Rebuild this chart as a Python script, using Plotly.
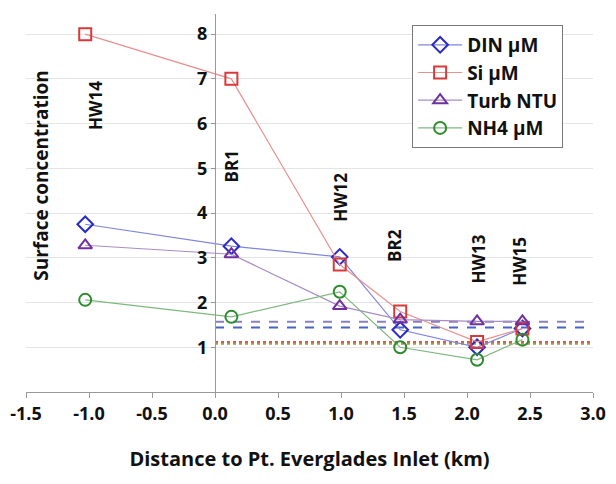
import plotly.graph_objects as go

stations = ["HW14", "BR1", "HW12", "BR2", "HW13", "HW15"]
distance = [-1.03, 0.13, 0.99, 1.47, 2.08, 2.44]
din = [3.75, 3.26, 3.02, 1.39, 1.0, 1.42]
si = [8.0, 7.0, 2.85, 1.8, 1.12, 1.42]
turb = [3.28, 3.08, 1.92, 1.62, 1.58, 1.58]
nh4 = [2.06, 1.68, 2.24, 1.0, 0.72, 1.17]

label_x = [-0.95, 0.13, 1.0, 1.43, 2.09, 2.42]
label_y = [6.4, 5.05, 4.34, 3.27, 2.97, 2.93]

x_ticks = [-1.5, -1.0, -0.5, 0.0, 0.5, 1.0, 1.5, 2.0, 2.5, 3.0]
x_tick_text = ["-1.5", "-1.0", "-0.5", "0.0", "0.5", "1.0", "1.5", "2.0", "2.5", "3.0"]
y_ticks = [1, 2, 3, 4, 5, 6, 7, 8]

ref_x = [0.0, 3.0]
ref_levels = [1.57, 1.44, 1.12, 1.08]
ref_colors = ["#8a7fc0", "#4a63c8", "#e05050", "#a0a040"]
ref_dash = ["dash", "dash", "dot", "dot"]

series = [
    ("DIN µM", din, "diamond-open", "#2a2ac8", "#7f86d8"),
    ("Si µM", si, "square-open", "#d83a3a", "#e89090"),
    ("Turb NTU", turb, "triangle-up-open", "#7030a0", "#a98cc4"),
    ("NH4 µM", nh4, "circle-open", "#2e8b2e", "#7fb87f"),
]

FONT = "Open Sans"

fig = go.Figure()
for lvl, col, d in zip(ref_levels, ref_colors, ref_dash):
    fig.add_trace(go.Scatter(x=ref_x, y=[lvl, lvl], mode="lines",
                             line=dict(color=col, width=2, dash=d),
                             showlegend=False, hoverinfo="skip"))

for name, vals, sym, mc, lc in series:
    fig.add_trace(go.Scatter(x=distance, y=vals, name=name, mode="lines+markers",
                             line=dict(color=lc, width=1.2),
                             marker=dict(symbol=sym, size=12, color=mc,
                                         line=dict(color=mc, width=2))))

for s, lx, ly in zip(stations, label_x, label_y):
    fig.add_annotation(x=lx, y=ly, text=s, showarrow=False, textangle=-90,
                       font=dict(family=FONT, size=17, color="#111111", weight="bold"))

fig.update_layout(
    width=608, height=476,
    margin=dict(l=18, r=23, t=6, b=92, autoexpand=False),
    paper_bgcolor="white", plot_bgcolor="white",
    font=dict(family=FONT, size=18, color="#111111"),
    xaxis=dict(range=[-1.5, 3.0], tickvals=x_ticks, ticktext=x_tick_text,
               ticklabeloverflow="allow", automargin=False,
               showgrid=False, zeroline=False,
               showline=True, linecolor="#999999", linewidth=1,
               ticks="outside", ticklen=5, tickcolor="#999999",
               tickfont=dict(family=FONT, size=18, weight="bold"),
               title=dict(text="Distance to Pt. Everglades Inlet (km)", standoff=28,
                          font=dict(family=FONT, size=20, weight="bold"))),
    yaxis=dict(range=[0, 8.45], tickvals=y_ticks, automargin=False,
               showgrid=True, gridcolor="#e4e4e4", zeroline=False,
               anchor="free", position=1/3,
               showline=True, linecolor="#999999", linewidth=1,
               ticks="outside", ticklen=4, tickcolor="#999999",
               tickfont=dict(family=FONT, size=18, weight="bold")),
    legend=dict(x=0.681, y=0.971, xanchor="left", yanchor="top",
                bordercolor="#777777", borderwidth=1, bgcolor="white",
                font=dict(family=FONT, size=19, weight="bold"),
                itemwidth=44, tracegroupgap=0),
)
fig.add_annotation(text="Surface concentration", xref="paper", yref="paper",
                   x=0.026, y=0.574, xanchor="center", yanchor="middle",
                   showarrow=False, textangle=-90,
                   font=dict(family=FONT, size=19, weight="bold"))

fig.write_html("out.html")
